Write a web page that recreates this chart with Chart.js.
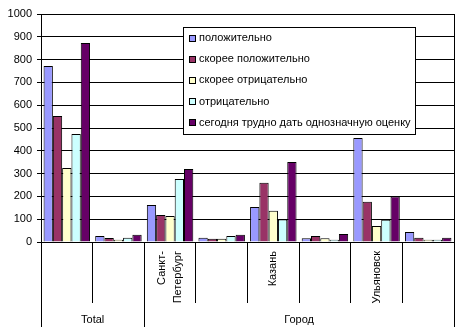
<!DOCTYPE html>
<html>
<head>
<meta charset="utf-8">
<script src="https://cdn.jsdelivr.net/npm/chart.js@4.4.1/dist/chart.umd.min.js"></script>
<style>
html, body { margin: 0; padding: 0; background: #fff; }
</style>
</head>
<body>
<canvas id="chart" width="465" height="335"></canvas>
<script>
// categories along the bottom, grouped into two blocks
const categories = ['', '', ['Санкт-', 'Петербург'], '', 'Казань', '', 'Ульяновск', ''];
const groupLabels = ['Total', 'Город'];
const groupSpans = [2, 6];

const seriesNames = [
    'положительно',
    'скорее положительно',
    'скорее отрицательно',
    'отрицательно',
    'сегодня трудно дать однозначную оценку'
];
const seriesColors = ['#9999FF', '#993366', '#FFFFCC', '#CCFFFF', '#660066'];

const positive       = [772, 26, 162, 19, 154, 16, 456, 44];
const ratherPositive = [553, 18, 118, 14, 260, 26, 177, 19];
const ratherNegative = [325, 10, 114, 14, 137, 16,  70, 10];
const negative       = [474, 19, 276, 26,  99, 10,  98, 10];
const hardToSay      = [873, 32, 320, 32, 351, 35, 200, 19];

const yMax = 1000;
const yStep = 100;

const FONT = '"Liberation Sans", Arial, sans-serif';

function crisp(v) {
    return Math.floor(v) + 0.5;
}

// draws the two-level category axis, the plot frame and the legend box
const excelParts = {
    id: 'excelParts',
    afterDraw(chart) {
        const ctx = chart.ctx;
        const area = chart.chartArea;
        const x = chart.scales.x;
        const step = x.getPixelForValue(1) - x.getPixelForValue(0);
        const edge = i => x.getPixelForValue(i) - step / 2;

        ctx.save();
        ctx.strokeStyle = '#000';
        ctx.lineWidth = 1;

        // right side of the plot frame
        ctx.beginPath();
        ctx.moveTo(crisp(area.right), area.top);
        ctx.lineTo(crisp(area.right), area.bottom);
        ctx.stroke();

        // group boundaries
        const groupEdges = [0];
        groupSpans.forEach(s => groupEdges.push(groupEdges[groupEdges.length - 1] + s));

        ctx.beginPath();
        for (let i = 0; i <= categories.length; i++) {
            const px = crisp(edge(i));
            const long = groupEdges.includes(i);
            ctx.moveTo(px, area.bottom);
            ctx.lineTo(px, area.bottom + (long ? 85 : 61));
        }
        ctx.stroke();

        // category labels, rotated
        ctx.fillStyle = '#000';
        ctx.font = '11px ' + FONT;
        ctx.textAlign = 'right';
        ctx.textBaseline = 'middle';
        categories.forEach((label, i) => {
            const lines = Array.isArray(label) ? label : [label];
            const cx = x.getPixelForValue(i);
            lines.forEach((line, k) => {
                const lx = cx + (k - (lines.length - 1) / 2) * 16.6;
                ctx.save();
                ctx.translate(lx, area.bottom + 9);
                ctx.rotate(-Math.PI / 2);
                ctx.fillText(line, 0, 0);
                ctx.restore();
            });
        });

        // group labels
        ctx.textAlign = 'center';
        groupLabels.forEach((label, g) => {
            const gx = (edge(groupEdges[g]) + edge(groupEdges[g + 1])) / 2;
            ctx.fillText(label, gx, area.bottom + 78);
        });

        // legend box over the plot
        const box = { left: area.left + 142, top: area.top + 13, width: 232, height: 107 };
        ctx.fillStyle = '#fff';
        ctx.fillRect(crisp(box.left), crisp(box.top), box.width, box.height);
        ctx.strokeRect(crisp(box.left), crisp(box.top), box.width, box.height);

        ctx.textAlign = 'left';
        chart.data.datasets.forEach((ds, i) => {
            const cy = box.top + 11 + i * 21.2;
            ctx.fillStyle = ds.backgroundColor;
            ctx.fillRect(crisp(box.left + 6), crisp(cy - 3), 6, 6);
            ctx.strokeRect(crisp(box.left + 6), crisp(cy - 3), 6, 6);
            ctx.fillStyle = '#000';
            ctx.fillText(ds.label, box.left + 16, cy);
        });

        ctx.restore();
    }
};

const seriesValues = [positive, ratherPositive, ratherNegative, negative, hardToSay];

new Chart(document.getElementById('chart'), {
    type: 'bar',
    data: {
        labels: categories,
        datasets: seriesValues.map((values, i) => ({
            label: seriesNames[i],
            data: values,
            backgroundColor: seriesColors[i],
            borderColor: '#000',
            borderWidth: 1,
            categoryPercentage: 0.9,
            barPercentage: 1
        }))
    },
    options: {
        responsive: false,
        animation: false,
        devicePixelRatio: 1,
        layout: {
            padding: { top: 14, right: 11, bottom: 93, left: 0 }
        },
        plugins: {
            legend: { display: false },
            tooltip: { enabled: false }
        },
        scales: {
            x: {
                display: false,
                offset: true
            },
            y: {
                min: 0,
                max: yMax,
                ticks: {
                    stepSize: yStep,
                    color: '#000',
                    padding: 5,
                    font: { family: FONT, size: 11 },
                    callback: value => String(value)
                },
                grid: {
                    color: '#000',
                    tickLength: 4
                },
                border: { color: '#000' },
                afterFit(scale) {
                    scale.width = 41;
                }
            }
        }
    },
    plugins: [excelParts]
});
</script>
</body>
</html>
